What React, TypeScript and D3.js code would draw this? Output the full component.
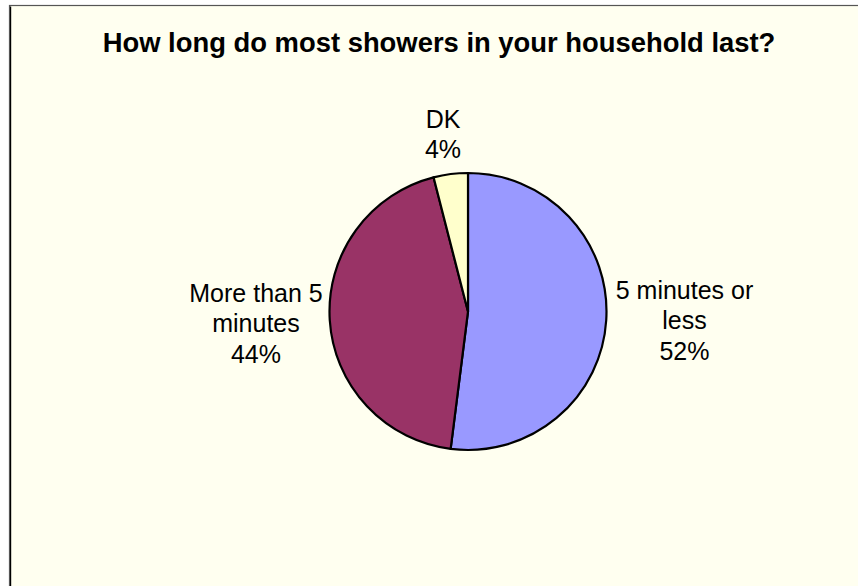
import React from "react";
import * as d3 from "d3";

const categories: string[] = ["5 minutes or less", "More than 5 minutes", "DK"];
const values: number[] = [52, 44, 4];
const colors: string[] = ["#9999FF", "#993366", "#FFFFCC"];
const labelLines: string[][] = [
  ["5 minutes or", "less", "52%"],
  ["More than 5", "minutes", "44%"],
  ["DK", "4%"],
];
const title = "How long do most showers in your household last?";

const W = 858;
const H = 586;
const cx = 468;
const cy = 311.5;
const R = 138.5;

// label anchor positions (center x, first baseline y)
const labelPos: [number, number][] = [
  [684.5, 298.5],
  [256, 301.5],
  [443, 127.5],
];

export default function App() {
  const pie = d3
    .pie<number>()
    .value((d) => d)
    .sort(null)
    .startAngle(0)
    .endAngle(2 * Math.PI);
  const arcs = pie(values);
  const arc = d3.arc<d3.PieArcDatum<number>>().innerRadius(0).outerRadius(R);
  const font = "'Liberation Sans', Arial, sans-serif";

  return (
    <svg
      width={W}
      height={H}
      style={{ position: "fixed", left: 0, top: 0, display: "block" }}
    >
      <rect x={0} y={0} width={W} height={H} fill="#FFFFFF" />
      <rect x={9.5} y={5.5} width={W + 20} height={H + 20} fill="#FFFFF0" stroke="#555" strokeWidth={1.2} />
      <line x1={10.6} y1={6.5} x2={10.6} y2={H} stroke="#000" strokeWidth={1.2} />
      <text
        x={439}
        y={51.5}
        textAnchor="middle"
        fontFamily={font}
        fontWeight="bold"
        fontSize={27.4}
        fill="#000"
      >
        {title}
      </text>
      <g transform={`translate(${cx},${cy})`}>
        {arcs.map((a, i) => (
          <path
            key={categories[i]}
            d={arc(a) || ""}
            fill={colors[i]}
            stroke="#000"
            strokeWidth={2.2}
            strokeLinejoin="round"
          />
        ))}
      </g>
      {labelLines.map((lines, i) => (
        <text
          key={categories[i]}
          textAnchor="middle"
          fontFamily={font}
          fontSize={25}
          fill="#000"
        >
          {lines.map((l, j) => (
            <tspan key={j} x={labelPos[i][0]} y={labelPos[i][1] + j * 30.5}>
              {l}
            </tspan>
          ))}
        </text>
      ))}
    </svg>
  );
}
